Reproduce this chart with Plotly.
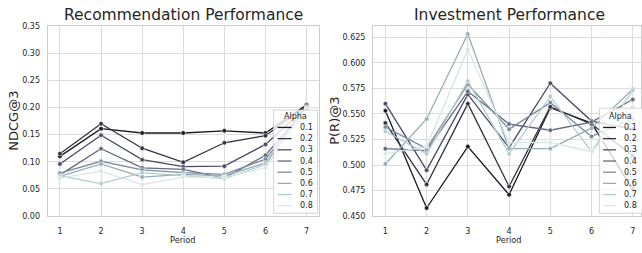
import plotly.graph_objects as go

W, H = 642, 253

periods = [1, 2, 3, 4, 5, 6, 7]
alphas = ["0.1", "0.2", "0.3", "0.4", "0.5", "0.6", "0.7", "0.8"]
colors = ["#191922", "#323245", "#4a4a67", "#636a83", "#7c8c9c", "#95aeb5", "#b2cdcd", "#d8e6e6"]

# Recommendation Performance: NDCG@3 per alpha
ndcg = {
    "0.1": [0.110, 0.161, 0.153, 0.153, 0.157, 0.153, 0.205],
    "0.2": [0.115, 0.170, 0.125, 0.099, 0.135, 0.148, 0.203],
    "0.3": [0.096, 0.149, 0.104, 0.091, 0.092, 0.132, 0.201],
    "0.4": [0.076, 0.124, 0.089, 0.086, 0.070, 0.112, 0.200],
    "0.5": [0.079, 0.101, 0.085, 0.080, 0.077, 0.105, 0.199],
    "0.6": [0.073, 0.096, 0.072, 0.077, 0.074, 0.098, 0.198],
    "0.7": [0.074, 0.060, 0.080, 0.075, 0.069, 0.095, 0.197],
    "0.8": [0.070, 0.083, 0.058, 0.072, 0.072, 0.089, 0.196],
}

# Investment Performance: P(R)@3 per alpha
pr = {
    "0.1": [0.553, 0.458, 0.518, 0.471, 0.556, 0.541, 0.476],
    "0.2": [0.541, 0.481, 0.560, 0.479, 0.557, 0.540, 0.509],
    "0.3": [0.560, 0.495, 0.569, 0.517, 0.580, 0.543, 0.535],
    "0.4": [0.516, 0.514, 0.572, 0.540, 0.534, 0.542, 0.564],
    "0.5": [0.537, 0.516, 0.579, 0.535, 0.561, 0.528, 0.545],
    "0.6": [0.501, 0.545, 0.628, 0.516, 0.516, 0.536, 0.574],
    "0.7": [0.533, 0.511, 0.582, 0.511, 0.567, 0.513, 0.573],
    "0.8": [0.511, 0.518, 0.613, 0.522, 0.522, 0.513, 0.557],
}

ndcg_ticks = [0.00, 0.05, 0.10, 0.15, 0.20, 0.25, 0.30, 0.35]
pr_ticks = [0.450, 0.475, 0.500, 0.525, 0.550, 0.575, 0.600, 0.625]

TXT = "#262626"
GRID = "#dcdcdc"
FONT = "DejaVu Sans"

def px(x):
    return x / W

def py(y):
    return 1 - y / H

fig = go.Figure()
for a, c in zip(alphas, colors):
    fig.add_trace(go.Scatter(x=periods, y=ndcg[a], mode="lines+markers", name=a,
                             line=dict(color=c, width=1.3),
                             marker=dict(size=4.5, color=c, line=dict(color="white", width=0.5)),
                             xaxis="x", yaxis="y", showlegend=False))
for a, c in zip(alphas, colors):
    fig.add_trace(go.Scatter(x=periods, y=pr[a], mode="lines+markers", name=a,
                             line=dict(color=c, width=1.3),
                             marker=dict(size=4.5, color=c, line=dict(color="white", width=0.5)),
                             xaxis="x2", yaxis="y2", showlegend=False))

axis_common = dict(showgrid=True, gridcolor=GRID, gridwidth=1, zeroline=False,
                   showline=True, linecolor="#cccccc", linewidth=1, mirror=True,
                   ticks="outside", tickcolor="rgba(0,0,0,0)",
                   tickfont=dict(family=FONT, size=8, color=TXT))

L0, L1 = 47.7, 319.4
R0, R1 = 373.6, 642
T, B = 22.7, 220

fig.update_layout(
    width=W, height=H, margin=dict(l=0, r=0, t=0, b=0),
    paper_bgcolor="white", plot_bgcolor="white",
    font=dict(family=FONT, color=TXT),
    xaxis=dict(domain=[px(L0), px(L1)], range=[0.7, 7.3], tickvals=periods, anchor="y", ticklen=7, **axis_common),
    yaxis=dict(domain=[py(B), py(T)], range=[0, 0.35], tickvals=ndcg_ticks, tickformat=".2f", anchor="x", ticklen=5, **axis_common),
    xaxis2=dict(domain=[px(R0), 1.0], range=[0.7, 7.2], tickvals=periods, anchor="y2", ticklen=7, **axis_common),
    yaxis2=dict(domain=[py(B), py(T)], range=[0.45, 0.636], tickvals=pr_ticks, tickformat=".3f", anchor="x2", ticklen=5, **axis_common),
)

ann = []
shapes = []
# subplot titles
ann.append(dict(text="Recommendation Performance", x=px((L0 + L1) / 2), y=py(11.5), xref="paper", yref="paper",
                showarrow=False, font=dict(size=15.5, color=TXT, family=FONT), xanchor="center", yanchor="middle"))
ann.append(dict(text="Investment Performance", x=px((R0 + 646) / 2), y=py(11.5), xref="paper", yref="paper",
                showarrow=False, font=dict(size=15.5, color=TXT, family=FONT), xanchor="center", yanchor="middle"))
# axis titles
for xc, label in [((L0 + L1) / 2, "Period"), ((R0 + 646) / 2, "Period")]:
    ann.append(dict(text=label, x=px(xc), y=py(244.5), xref="paper", yref="paper", showarrow=False,
                    font=dict(size=8.2, color=TXT, family=FONT), xanchor="center", yanchor="middle"))
for xc, label in [(12.7, "NDCG@3"), (334.3, "P(R)@3")]:
    ann.append(dict(text=label, x=px(xc), y=py((T + B) / 2), xref="paper", yref="paper", showarrow=False,
                    textangle=-90, font=dict(size=13, color=TXT, family=FONT), xanchor="center", yanchor="middle"))

# legends (one per panel)
for bx0, bx1, by0, by1, tx, s0, s1, lx in [
    (274, 318, 110, 217, 296, 278, 292, 298),
    (600.3, 645, 108, 217, 621, 604, 617, 622.7),
]:
    shapes.append(dict(type="rect", xref="paper", yref="paper", x0=px(bx0), x1=px(bx1), y0=py(by1), y1=py(by0),
                       fillcolor="rgba(255,255,255,0.8)", line=dict(color="#cccccc", width=0.8), layer="above"))
    ann.append(dict(text="Alpha", x=px(tx), y=py(117), xref="paper", yref="paper", showarrow=False,
                    font=dict(size=8, color=TXT, family=FONT), xanchor="center", yanchor="middle"))
    for i, (a, c) in enumerate(zip(alphas, colors)):
        yy = 128 + i * 11.6
        shapes.append(dict(type="line", xref="paper", yref="paper", x0=px(s0), x1=px(s1), y0=py(yy), y1=py(yy),
                           line=dict(color=c, width=1.3), layer="above"))
        ann.append(dict(text=a, x=px(lx), y=py(yy), xref="paper", yref="paper", showarrow=False,
                        font=dict(size=8, color=TXT, family=FONT), xanchor="left", yanchor="middle"))

fig.update_layout(annotations=ann, shapes=shapes)
fig.write_html("out.html", config={"displayModeBar": False},
               post_script="document.body.style.margin='0';")
